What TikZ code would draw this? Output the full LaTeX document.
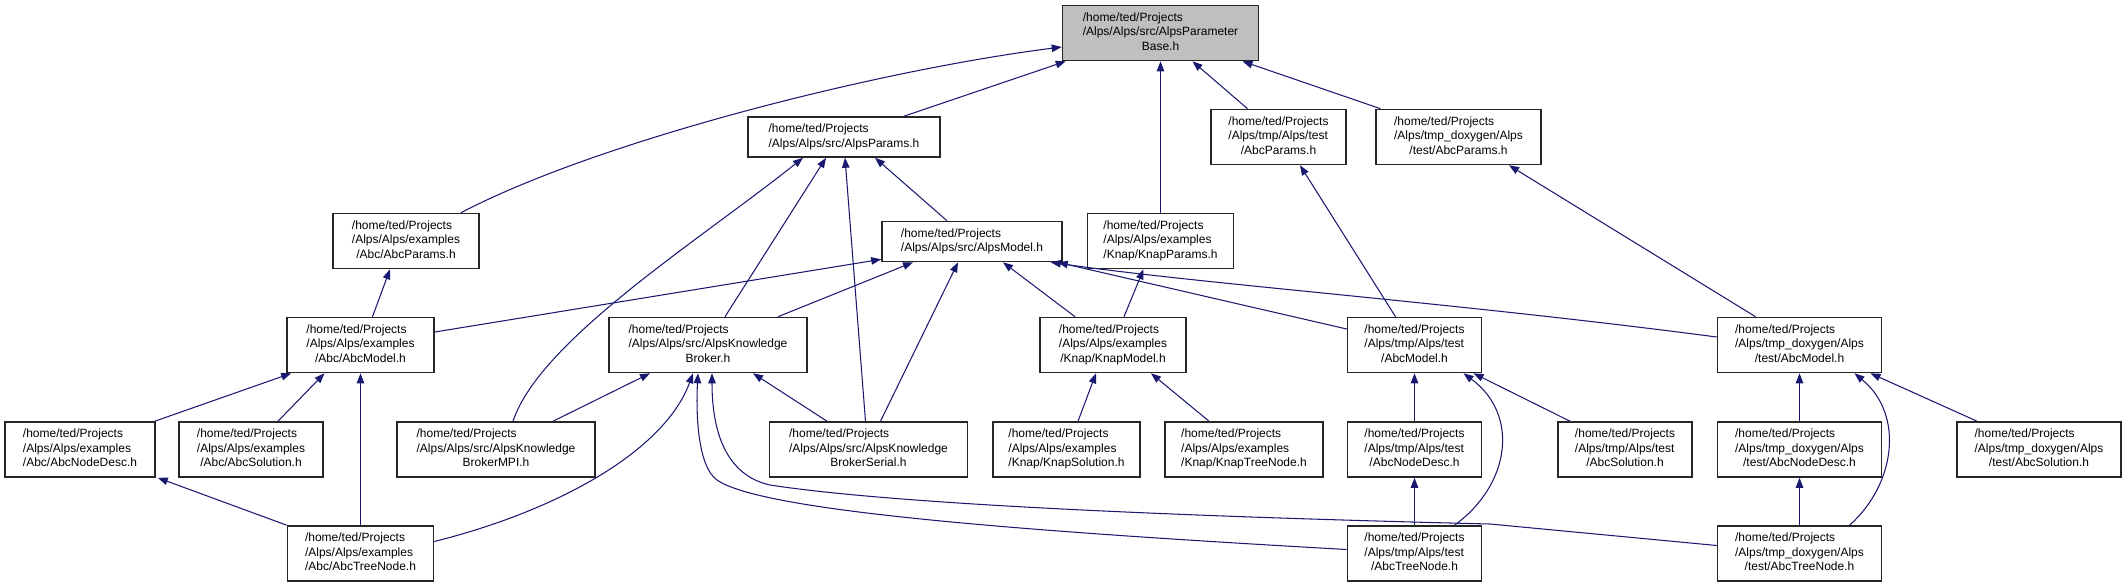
\documentclass[tikz,border=0pt]{standalone}
\usepackage{fontspec}
\setmainfont{Liberation Sans}
\usetikzlibrary{arrows.meta,calc}
\newcommand{\tri}[3]{\begin{tabular}{@{}l@{}}#1\\#2\\\multicolumn{1}{@{}c@{}}{#3}\end{tabular}}
\newcommand{\duo}[2]{\begin{tabular}{@{}l@{}}#1\\\multicolumn{1}{@{}c@{}}{#2}\end{tabular}}
\definecolor{edgeblue}{HTML}{191970}
\begin{document}
\begin{tikzpicture}[x=1pt,y=-1pt,
  box/.style={draw=black!85,line width=1.6pt,fill=white,inner sep=0pt,minimum height=55pt,
    font=\fontsize{12}{14.5}\selectfont},
  two/.style={minimum height=40pt},
  edge/.style={draw=edgeblue,line width=1.05pt,-{Triangle[length=10pt,width=7.5pt]}}]
\useasboundingbox (0,0) rectangle (2126,587);
% rank 0
\node[box,fill=black!25,minimum width=196pt] (PB) at (1160.5,33) {\tri{/home/ted/Projects}{/Alps/Alps/src/AlpsParameter}{Base.h}};
% rank 1
\node[box,two,minimum width=192pt] (AP) at (844,137) {\duo{/home/ted/Projects}{/Alps/Alps/src/AlpsParams.h}};
\node[box,minimum width=135pt] (tP) at (1278.5,137) {\tri{/home/ted/Projects}{/Alps/tmp/Alps/test}{/AbcParams.h}};
\node[box,minimum width=165pt] (dP) at (1458.5,137) {\tri{/home/ted/Projects}{/Alps/tmp\_doxygen/Alps}{/test/AbcParams.h}};
% rank 2
\node[box,minimum width=146pt] (exP) at (406,241) {\tri{/home/ted/Projects}{/Alps/Alps/examples}{/Abc/AbcParams.h}};
\node[box,two,minimum width=180pt] (AM) at (972,241.5) {\duo{/home/ted/Projects}{/Alps/Alps/src/AlpsModel.h}};
\node[box,minimum width=146pt] (KP) at (1160.5,241) {\tri{/home/ted/Projects}{/Alps/Alps/examples}{/Knap/KnapParams.h}};
% rank 3
\node[box,minimum width=147pt] (AbM) at (360.5,345) {\tri{/home/ted/Projects}{/Alps/Alps/examples}{/Abc/AbcModel.h}};
\node[box,minimum width=198pt] (KB) at (708,345) {\tri{/home/ted/Projects}{/Alps/Alps/src/AlpsKnowledge}{Broker.h}};
\node[box,minimum width=146pt] (KM) at (1113,345) {\tri{/home/ted/Projects}{/Alps/Alps/examples}{/Knap/KnapModel.h}};
\node[box,minimum width=134pt] (tM) at (1414.5,345) {\tri{/home/ted/Projects}{/Alps/tmp/Alps/test}{/AbcModel.h}};
\node[box,minimum width=164pt] (dM) at (1799.5,345) {\tri{/home/ted/Projects}{/Alps/tmp\_doxygen/Alps}{/test/AbcModel.h}};
% rank 4
\node[box,minimum width=150pt] (ND) at (80,449.5) {\tri{/home/ted/Projects}{/Alps/Alps/examples}{/Abc/AbcNodeDesc.h}};
\node[box,minimum width=144pt] (AS) at (251,449.5) {\tri{/home/ted/Projects}{/Alps/Alps/examples}{/Abc/AbcSolution.h}};
\node[box,minimum width=198pt] (MPI) at (496,449.5) {\tri{/home/ted/Projects}{/Alps/Alps/src/AlpsKnowledge}{BrokerMPI.h}};
\node[box,minimum width=198pt] (SER) at (868.5,449.5) {\tri{/home/ted/Projects}{/Alps/Alps/src/AlpsKnowledge}{BrokerSerial.h}};
\node[box,minimum width=147pt] (KS) at (1066.5,449.5) {\tri{/home/ted/Projects}{/Alps/Alps/examples}{/Knap/KnapSolution.h}};
\node[box,minimum width=158pt] (KTN) at (1244,449.5) {\tri{/home/ted/Projects}{/Alps/Alps/examples}{/Knap/KnapTreeNode.h}};
\node[box,minimum width=134pt] (tND) at (1414.5,449.5) {\tri{/home/ted/Projects}{/Alps/tmp/Alps/test}{/AbcNodeDesc.h}};
\node[box,minimum width=134pt] (tS) at (1625,449.5) {\tri{/home/ted/Projects}{/Alps/tmp/Alps/test}{/AbcSolution.h}};
\node[box,minimum width=164pt] (dND) at (1799.5,449.5) {\tri{/home/ted/Projects}{/Alps/tmp\_doxygen/Alps}{/test/AbcNodeDesc.h}};
\node[box,minimum width=164pt] (dS) at (2039,449.5) {\tri{/home/ted/Projects}{/Alps/tmp\_doxygen/Alps}{/test/AbcSolution.h}};
% rank 5
\node[box,minimum width=146pt] (ATN) at (360.5,553.5) {\tri{/home/ted/Projects}{/Alps/Alps/examples}{/Abc/AbcTreeNode.h}};
\node[box,minimum width=134pt] (tTN) at (1414.5,553.5) {\tri{/home/ted/Projects}{/Alps/tmp/Alps/test}{/AbcTreeNode.h}};
\node[box,minimum width=164pt] (dTN) at (1799.5,553.5) {\tri{/home/ted/Projects}{/Alps/tmp\_doxygen/Alps}{/test/AbcTreeNode.h}};
% edges to PB
\draw[edge] ($(exP.north)+(55,0)$) .. controls (600,140) and (880,70) .. ($(PB.west)+(0,14)$);
\draw[edge] ($(AP.north)+(60,0)$) -- ($(PB.south west)+(4,0)$);
\draw[edge] (KP.north) -- (PB.south);
\draw[edge] ($(tP.north)+(-31,0)$) -- ($(PB.south)+(32,0)$);
\draw[edge] ($(dP.north)+(-78,0)$) -- ($(PB.south)+(82,0)$);
% edges to AP
\draw[edge] ($(AM.north)+(-25,0)$) -- ($(AP.south)+(31,0)$);
\draw[edge] ($(KB.north)+(17,0)$) -- ($(AP.south)+(-18,0)$);
\draw[edge] ($(MPI.north)+(17,0)$) .. controls (540,340) and (700,240) .. ($(AP.south)+(-41,0)$);
\draw[edge] ($(SER.north)+(-3,0)$) -- ($(AP.south)+(1,0)$);
% edges to AM
\draw[edge] ($(AbM.east)+(0,-13)$) -- ($(AM.south west)+(0,-3)$);
\draw[edge] ($(KB.north)+(70,0)$) -- ($(AM.south)+(-59,0)$);
\draw[edge] ($(SER.north)+(12,0)$) -- ($(AM.south)+(-14,0)$);
\draw[edge] ($(KM.north)+(-38,0)$) -- ($(AM.south)+(31,0)$);
\draw[edge] ($(tM.west)+(0,-16)$) -- ($(AM.south east)+(-5,0)$);
\draw[edge] ($(dM.west)+(0,-8)$) .. controls (1450,302) and (1200,284) .. ($(AM.south east)+(-12,0)$);
% rank 3 -> rank 1/2
\draw[edge] ($(KM.north)+(11,0)$) -- ($(KP.south)+(-17,0)$);
\draw[edge] ($(tM.north)+(-19,0)$) -- ($(tP.south)+(21.5,0)$);
\draw[edge] ($(dM.north)+(-44,0)$) -- ($(dP.south)+(50.5,0)$);
\draw[edge] ($(AbM.north)+(12,0)$) -- ($(exP.south)+(-16,0)$);
% to AbM
\draw[edge] ($(ND.north east)+(-1,0)$) -- ($(AbM.south west)+(5,0)$);
\draw[edge] ($(AS.north)+(27,0)$) -- ($(AbM.south)+(-36,0)$);
\draw[edge] (ATN.north) -- (AbM.south);
\draw[edge] (ATN.north west) -- ($(ND.south east)+(2,0)$);
% to KB
\draw[edge] ($(MPI.north)+(57,0)$) -- ($(KB.south)+(-58,0)$);
\draw[edge] ($(SER.north)+(-41.5,0)$) -- ($(KB.south)+(45,0)$);
\draw[edge] ($(ATN.east)+(0,-12)$) .. controls (560,510) and (665,450) .. ($(KB.south)+(-15,0)$);
\draw[edge] ($(tTN.west)+(0,-4)$) .. controls (1000,530) and (760,510) .. (717,480) .. controls (697,466) and (696,410) .. ($(KB.south)+(-10,0)$);
\draw[edge] ($(dTN.west)+(0,-8)$) -- (1490,524) .. controls (1200,517) and (900,505) .. (770,485) .. controls (725,475) and (712,430) .. ($(KB.south)+(4,0)$);
% to KM
\draw[edge] ($(KS.north)+(11.5,0)$) -- ($(KM.south)+(-17,0)$);
\draw[edge] ($(KTN.north)+(-35,0)$) -- ($(KM.south)+(38,0)$);
% tmp
\draw[edge] (tND.north) -- (tM.south);
\draw[edge] ($(tTN.north)+(40,0)$) .. controls (1510,485) and (1520,415) .. ($(tM.south)+(49,0)$);
\draw[edge] ($(tS.north)+(-55,0)$) -- ($(tM.south)+(59,0)$);
\draw[edge] (tTN.north) -- (tND.south);
% tmp_doxygen
\draw[edge] (dND.north) -- (dM.south);
\draw[edge] ($(dTN.north)+(50,0)$) .. controls (1895,485) and (1905,415) .. ($(dM.south)+(55,0)$);
\draw[edge] ($(dS.north)+(-62,0)$) -- ($(dM.south)+(71,0)$);
\draw[edge] (dTN.north) -- (dND.south);
\end{tikzpicture}
\end{document}
